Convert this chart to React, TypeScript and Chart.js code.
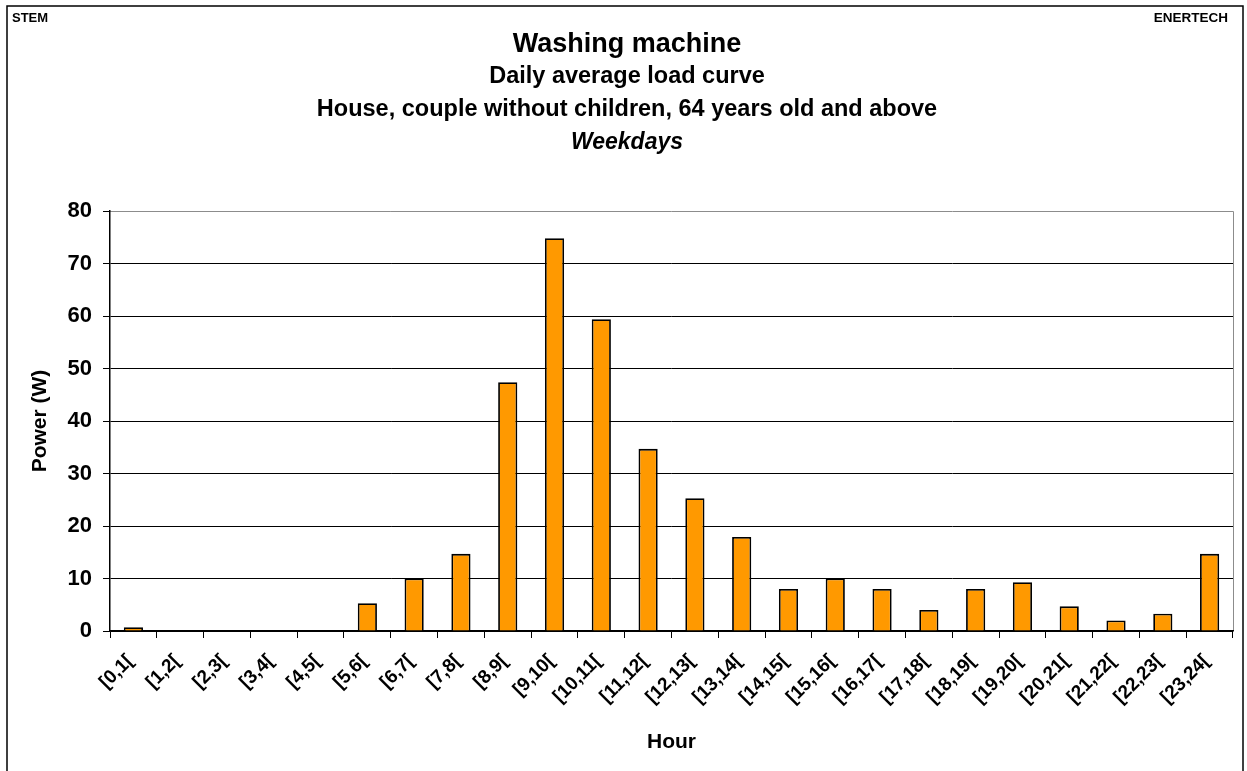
import React, { useEffect, useRef } from "react";
import { Chart, registerables } from "chart.js";

Chart.register(...registerables);

const hours: string[] = [
  "[0,1[", "[1,2[", "[2,3[", "[3,4[", "[4,5[", "[5,6[", "[6,7[", "[7,8[",
  "[8,9[", "[9,10[", "[10,11[", "[11,12[", "[12,13[", "[13,14[", "[14,15[",
  "[15,16[", "[16,17[", "[17,18[", "[18,19[", "[19,20[", "[20,21[", "[21,22[",
  "[22,23[", "[23,24[",
];
const powerW: number[] = [
  0.7, 0, 0, 0, 0, 5.3, 10.0, 14.7, 47.4, 74.8, 59.4, 34.7, 25.3, 17.9, 8.0,
  10.0, 8.0, 4.0, 8.0, 9.3, 4.7, 2.0, 3.3, 14.7,
];
const titleLines: string[] = [
  "Washing machine",
  "Daily average load curve",
  "House, couple without children, 64 years old and above",
  "Weekdays",
];
const yTitle = "Power (W)";
const xTitle = "Hour";
const leftNote = "STEM";
const rightNote = "ENERTECH";

const FONT = "'Liberation Sans', Arial, Helvetica, sans-serif";

function drawText(ctx: any, text: string, x: number, y: number, font: string, align: string) {
  ctx.save();
  ctx.font = font;
  ctx.textAlign = align;
  ctx.textBaseline = "middle";
  ctx.fillText(text, x, y);
  ctx.restore();
}

const decorPlugin = {
  id: "decor",
  beforeDraw(chart: any) {
    const ctx = chart.ctx;
    const { left, right, top, bottom } = chart.chartArea;
    ctx.save();
    ctx.fillStyle = "#fff";
    ctx.fillRect(0, 0, chart.width, chart.height);
    ctx.strokeStyle = "#000";
    ctx.lineWidth = 1.5;
    ctx.strokeRect(7, 6, 1236, 800);
    ctx.strokeStyle = "#8c8c8c";
    ctx.lineWidth = 1;
    ctx.beginPath();
    ctx.moveTo(left, top + 0.5);
    ctx.lineTo(right + 0.5, top + 0.5);
    ctx.lineTo(right + 0.5, bottom);
    ctx.stroke();
    ctx.restore();
  },
  afterDraw(chart: any) {
    const ctx = chart.ctx;
    const { left, right, top, bottom } = chart.chartArea;
    ctx.save();
    ctx.fillStyle = "#000";
    drawText(ctx, leftNote, 12, 18, `bold 13px ${FONT}`, "left");
    drawText(ctx, rightNote, 1228, 18, `bold 13.5px ${FONT}`, "right");

    const cx = 627;
    drawText(ctx, titleLines[0], cx, 45, `bold 27px ${FONT}`, "center");
    drawText(ctx, titleLines[1], cx, 77, `bold 23.5px ${FONT}`, "center");
    drawText(ctx, titleLines[2], cx, 110, `bold 23.5px ${FONT}`, "center");
    drawText(ctx, titleLines[3], cx, 143, `italic bold 23px ${FONT}`, "center");

    drawText(ctx, xTitle, (left + right) / 2, 742, `bold 21px ${FONT}`, "center");

    const ys = chart.scales.y;
    ys.ticks.forEach((t: any) => {
      const py = ys.getPixelForValue(t.value);
      drawText(ctx, String(t.value), 92, py, `bold 22px ${FONT}`, "right");
    });

    const xs = chart.scales.x;
    hours.forEach((lab, i) => {
      const px = xs.getPixelForValue(i);
      ctx.save();
      ctx.font = `bold 19px ${FONT}`;
      ctx.textAlign = "right";
      ctx.textBaseline = "middle";
      ctx.translate(px - 3, bottom + 27);
      ctx.rotate(-Math.PI / 4);
      ctx.fillText(lab, 0, 0);
      ctx.restore();
    });

    ctx.save();
    ctx.font = `bold 21px ${FONT}`;
    ctx.textAlign = "center";
    ctx.textBaseline = "middle";
    ctx.translate(40, (top + bottom) / 2);
    ctx.rotate(-Math.PI / 2);
    ctx.fillText(yTitle, 0, 0);
    ctx.restore();
    ctx.restore();
  },
};

export default function App() {
  const ref = useRef<HTMLCanvasElement | null>(null);
  useEffect(() => {
    if (!ref.current) return;
    const chart = new Chart(ref.current, {
      type: "bar",
      data: {
        labels: hours,
        datasets: [
          {
            data: powerW,
            backgroundColor: "#FF9900",
            borderColor: "#000000",
            borderWidth: 1.8,
            categoryPercentage: 0.82,
            barPercentage: 0.5,
          },
        ],
      },
      plugins: [decorPlugin],
      options: {
        animation: false,
        responsive: false,
        maintainAspectRatio: false,
        layout: { padding: { top: 211, right: 14, left: 0, bottom: 0 } },
        plugins: {
          legend: { display: false },
          title: { display: false },
          tooltip: { enabled: false },
        },
        scales: {
          x: {
            grid: {
              offset: true,
              drawOnChartArea: false,
              drawTicks: true,
              tickLength: 7,
              color: "#000",
            },
            border: { color: "#000", width: 1.5 },
            ticks: { display: false, autoSkip: false },
            afterFit: (s: any) => {
              s.height = 771 - 631;
            },
          },
          y: {
            min: 0,
            max: 80,
            ticks: { stepSize: 10, display: false },
            grid: {
              color: (c: any) => (c.tick && c.tick.value === 80 ? "rgba(0,0,0,0)" : "#000"),
              tickLength: 7,
              tickColor: "#000",
              lineWidth: 1,
            },
            border: { color: "#000", width: 1.5 },
            afterFit: (s: any) => {
              s.width = 110;
            },
          },
        },
      },
    });
    return () => chart.destroy();
  }, []);
  return (
    <div style={{ position: "fixed", left: 0, top: 0, width: 1247, height: 771, background: "#fff" }}>
      <canvas ref={ref} width={1247} height={771} style={{ width: 1247, height: 771 }} />
    </div>
  );
}
